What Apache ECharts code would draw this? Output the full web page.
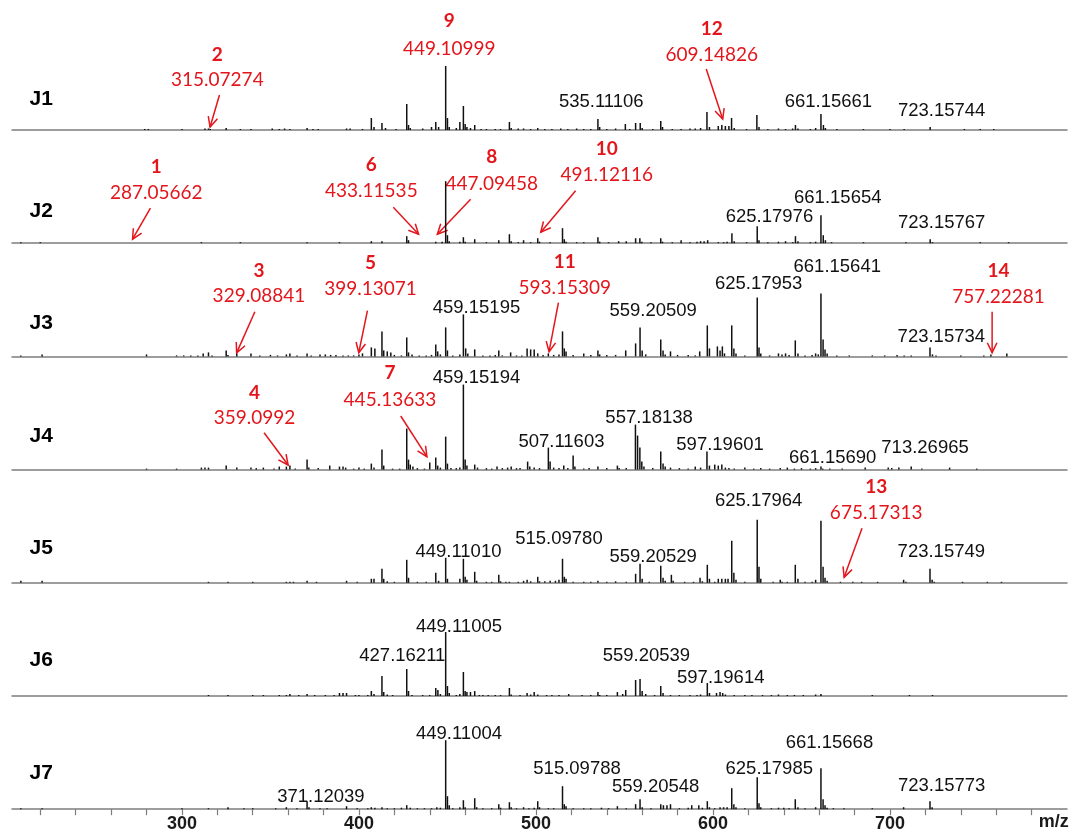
<!DOCTYPE html>
<html>
<head>
<meta charset="utf-8">
<title>J1-J7 mass spectra</title>
<script src="https://cdn.jsdelivr.net/npm/echarts@6/dist/echarts.min.js"></script>
<style>
  html, body { margin: 0; padding: 0; background: #fff; }
  #chart { width: 1069px; height: 837px; }
</style>
</head>
<body>
<div id="chart"></div>
<script>
// m/z axis
const mzMin = 204
const mzMax = 800
const tickValues = [220, 240, 260, 280, 300, 320, 340, 360, 380, 400, 420, 440, 460, 480, 500, 520, 540, 560, 580, 600, 620, 640, 660, 680, 700, 720, 740, 760, 780]
const tickLabels = [300, 400, 500, 600, 700]

const samples = ['J1', 'J2', 'J3', 'J4', 'J5', 'J6', 'J7']
const sampleLabelHeight = [31, 31.5, 33, 33.6, 34.5, 35.3, 36]

// peaks: [m/z, relative height]
const peaksJ1 = [[279, 1], [281, 1], [300, 1], [313, 1.5], [315, 1.5], [316, 1], [325, 2], [333, 1], [339, 1], [351, 1.5], [355, 1], [358, 1.5], [361, 1], [370.7, 2], [374, 1], [377, 1], [393, 1.5], [395, 1.5], [402, 1],
  [407, 12], [408.5, 3], [413, 7], [415, 2], [421, 1], [427, 26], [428, 5], [429, 2], [436, 1.5], [441, 3], [443.4, 8], [445, 3], [449, 64], [450, 12], [451, 3], [455, 2], [457, 8], [459, 24], [460, 6], [461, 3], [463, 2], [465.4, 5], [469, 1], [472, 1], [477, 1], [480, 1],
  [485, 8], [486, 2], [490, 1.5], [493, 1.5], [497, 1], [501, 2], [505, 1], [509, 1], [514, 1.5], [518, 1], [523, 1.5], [527, 1], [531, 1], [535, 11], [536, 3], [540, 1], [545, 1.5], [550.5, 6], [553, 1], [556.3, 7], [558.9, 7], [560, 2], [566, 1], [570.5, 9], [571.5, 3], [577, 1], [582, 1], [587, 1.5], [590, 1.5], [593, 2],
  [596.6, 18], [598, 3], [603, 4], [605, 5], [607, 4], [609, 4], [610.5, 12], [612, 2], [619, 1], [624.8, 15], [626, 3], [631, 1], [637, 1.5], [641, 1], [645, 1.5], [646.6, 5], [648, 1.5], [655, 1], [658, 2], [661, 16], [662.4, 5], [663.5, 2], [670, 1], [685, 1], [700, 1], [708, 1], [722.7, 3], [742, 1], [751, 1], [758.6, 1]]

const peaksJ2 = [[209, 1], [220, 1], [311, 1], [333, 1], [370.7, 1], [389, 1], [407, 2], [413, 2], [427, 7], [428, 3], [443.4, 1.5], [447, 1.5], [449, 62], [450, 8], [451, 2], [457, 1.5], [459, 6], [460, 1.5], [465.4, 4], [472, 1], [479, 3],
  [485, 9], [486, 2], [490, 1], [493, 3], [497, 1], [501, 5], [502, 1.5], [508, 1], [515, 15], [516, 4], [517, 1.5], [523, 1], [527, 1], [535, 6], [536, 1.5], [541, 1], [546.7, 2], [551, 2], [556.3, 5], [558.7, 5], [559.8, 1.5], [565, 1], [570.5, 5], [571.5, 1.5], [577, 1], [582, 3], [587, 1],
  [591, 1.5], [593, 2], [595, 2], [597, 3], [603, 1], [606, 1], [608, 1.5], [610.7, 10], [612, 2], [619, 1], [625, 17], [626, 3], [631, 1], [637, 1.5], [641, 2], [645, 1], [646.6, 7], [648, 2], [655, 1], [658, 1.5], [661, 28], [662.3, 8], [663.5, 3], [667, 1], [685, 1], [709, 1], [722.7, 4], [724, 1], [751, 1], [767, 1]]

const peaksJ3 = [[209, 1], [221, 2], [280, 2], [297, 1], [301, 1], [305, 1], [309, 1], [312, 3], [315, 4], [317, 1], [325, 6], [326, 1.5], [331, 3], [339, 3], [344, 1], [350, 1.5], [354, 1], [359, 2], [361, 3], [365, 1], [370.7, 3], [373, 1], [378, 2], [381, 2], [384, 1.5], [387, 1.5], [391, 1], [394, 1], [397, 1], [400, 2], [402, 3],
  [407, 9], [409, 8], [413, 25], [414, 6], [416, 5], [418, 4], [420, 1.5], [424, 1], [427, 19], [428, 4], [430, 2], [434, 1], [438, 1], [441, 1.5], [443.4, 12], [444.5, 5], [446, 2], [449, 29], [450, 6], [453, 1], [457, 2], [459, 42], [460.3, 8], [461.5, 3], [465.4, 7], [470, 1], [474, 1], [477, 1.5], [479, 6], [481, 1],
  [485.7, 4], [489, 1], [492, 1], [495, 8], [497, 7], [499, 7], [501, 3], [504, 1.5], [507, 3], [510, 1.5], [513, 2], [515, 25], [516, 8], [517, 5], [521, 1.5], [527, 3], [531, 1.5], [535, 6], [536, 2], [540, 1.5], [545, 1.5], [550.7, 6], [556.3, 13], [558.8, 29], [560, 6], [562, 2],
  [570.5, 17], [571.8, 6], [573, 2], [576, 5], [580, 1.5], [586, 1.5], [590, 1], [592.5, 5], [596.8, 31], [598, 8], [602.5, 10], [604, 6], [605.3, 10], [606.5, 3], [610.6, 31], [611.8, 8], [613, 3], [618, 1], [625, 59], [626, 9], [627, 3], [632, 1], [637, 3], [639, 2], [641, 3], [643, 1.5], [646.5, 16], [648, 3],
  [652, 1], [656, 1.5], [658, 3], [659.5, 2], [661, 63], [662.2, 17], [663.3, 7], [664.5, 3], [670, 1], [677, 1], [690, 1], [697, 1], [704, 1.5], [708, 1], [712, 1], [722.6, 9], [724, 2], [726, 1], [740, 1], [753, 1], [757, 2], [766, 3]]

const peaksJ4 = [[280, 1], [297, 1], [311, 2], [313, 2], [315, 2], [325, 4], [331, 2], [339, 2], [342, 1.5], [346, 2], [352, 1], [355, 3], [359, 3], [361, 4], [364, 1], [370.7, 10], [371.7, 2], [377, 1.5], [383.5, 4], [389, 3], [391, 3], [392.5, 2], [397, 1], [400, 2], [403, 1],
  [407, 6], [408.5, 2], [413, 20], [414, 4], [419, 1], [423, 1], [427, 41], [428, 10], [429, 5], [430.5, 3], [433, 1.5], [437, 1], [440, 7], [443.4, 12], [444.5, 4], [446, 2], [449, 33], [450, 6], [452, 1.5], [455, 1.5], [457, 2], [459, 85], [460, 10], [461, 4], [465.4, 5], [467, 2], [472, 1.5], [475, 1], [478, 3], [481, 1.5],
  [484, 2], [486, 3], [489, 1.5], [491, 1.5], [495.3, 8], [496.5, 3], [499, 2], [502, 1.5], [507, 22], [508, 8], [510, 2], [513, 1.5], [515.7, 4], [518, 1.5], [521, 14], [522, 3], [527, 1], [530, 1.5], [535, 3], [540, 1.5], [546, 4], [547, 1.5], [551, 1.5],
  [556.2, 45], [557.4, 34], [558.7, 22], [559.8, 8], [561, 3], [566, 1.5], [570.5, 18], [571.8, 6], [573, 3], [576, 2], [581, 1.5], [586, 1], [590, 3], [593, 2], [596.6, 18], [598, 4], [601, 5], [603, 4], [605, 5], [607, 2], [609, 1.5], [612, 1], [618, 2], [623, 1], [627, 1.5], [632, 1],
  [638, 1.5], [642, 2], [646, 1], [650, 1.5], [655, 1], [658, 1.5], [661, 3], [662, 1], [666, 1], [673, 1], [686, 2], [699, 2], [701, 1.5], [705, 2], [712, 3], [718, 1], [733.7, 2], [749, 1]]

const peaksJ5 = [[209, 2], [221, 2], [315, 1], [326, 1], [340, 1], [359, 1], [361, 1], [363, 1], [370.7, 2], [376, 1], [393, 2], [399, 1], [407, 4], [408.5, 4], [413, 14], [414, 4], [416, 1.5], [420, 1], [427, 23], [428, 5], [433, 1], [438, 1], [443.4, 10], [445, 2],
  [449, 25], [450, 4], [457, 4], [459, 24], [460, 6], [461, 3], [465.4, 11], [466.5, 2], [472, 1], [475, 1], [479, 8], [480, 1.5], [483, 1], [485, 1], [490, 1], [493, 2], [495, 3], [497, 1.5], [501, 6], [502, 1.5], [505, 1.5], [508, 2], [511, 2], [513, 3], [515, 24], [516, 6], [517, 4],
  [521, 1], [527, 1], [531, 1], [535, 2], [540, 1], [545, 1.5], [551, 1], [556.3, 9], [558.8, 19], [560, 4], [564, 1], [570.5, 17], [571.8, 5], [573, 2], [576.5, 8], [577.5, 2], [584, 1], [589, 1], [592.7, 5], [594, 1.5], [596.8, 18], [598, 4], [601, 1], [603, 4], [605, 4], [607, 4], [608.5, 4],
  [610.6, 42], [611.8, 10], [613, 3], [618, 1], [625, 63], [626, 16], [627, 4], [634, 1], [638, 3], [639, 1], [642, 1], [646.5, 18], [648, 4], [652, 1], [656, 1], [658, 3], [661, 62], [662.2, 16], [663.3, 5], [664.5, 2], [672, 1], [679, 1], [684, 1], [693, 1], [707.7, 3], [709, 1], [722.6, 14], [723.8, 3], [725, 1], [741, 1], [755, 1], [763, 1]]

const peaksJ6 = [[315, 1], [326, 1], [340, 1], [346, 1], [355, 1], [359, 1], [361, 2], [366, 1], [370.7, 2], [375, 1], [381, 1], [386, 1], [389, 3], [391, 3], [393, 3], [398, 1], [400, 1], [405, 1], [407, 5], [408.5, 2], [413, 20], [414, 4], [416, 1.5], [419, 1], [427, 27], [428, 5], [430, 1], [436, 1], [440, 1],
  [443.4, 8], [444.6, 6], [446, 2], [449, 64], [450, 10], [451, 3], [455, 1], [457, 2], [459, 24], [460, 5], [461, 4], [463, 4], [465.4, 5], [468, 1], [470, 1], [473, 1], [477, 1], [480, 1], [485, 8], [486, 1.5], [491, 1], [495, 3], [497, 1.5], [499, 4], [501, 1.5], [506, 1], [509, 1], [513, 1], [518.5, 2],
  [526, 1], [531, 1], [535, 4], [536, 1], [540, 1], [546, 4], [549, 2], [550.7, 6], [556.3, 16], [558.8, 17], [560, 5], [562, 2], [567, 1], [570.5, 10], [571.8, 3], [576, 1], [581, 1], [587, 1], [591, 1], [593, 1.5], [596.8, 13], [598, 3], [602, 3], [604, 4], [605.5, 3], [607, 1.5],
  [612, 1], [618, 1], [622, 1], [628, 1], [633, 1], [637, 1.5], [642, 1], [646, 1], [651, 1], [658, 1.5], [661, 2], [690, 1], [711, 1], [724, 1]]

const peaksJ7 = [[209, 1], [221, 1], [300, 1], [315, 1], [326, 2], [335, 1], [340, 1], [353, 1], [359, 2], [365, 1], [370.7, 8], [371.8, 2], [378, 1], [382, 1], [393, 3], [399, 1], [405, 1], [407, 2], [409, 1.5], [413, 2], [416, 1], [420, 1], [424, 1.5], [427, 4], [429, 1.5], [433, 1], [437, 1], [441, 1], [444, 2], [446, 1.5],
  [449, 69], [450, 13], [451, 4], [453, 1], [457, 2], [459, 9], [460, 2], [465.4, 11], [466.5, 2], [470, 1], [475, 1], [479, 5], [480, 1.5], [485, 7], [486, 2], [489, 1], [493, 2], [496, 1], [499, 1.5], [501, 8], [502, 2], [507, 1], [510, 1], [515, 23], [516, 5], [517, 3],
  [521, 1], [527, 1], [531, 1], [537, 1.5], [541, 1], [546, 3], [551, 1], [556.3, 5], [558.8, 10], [560, 2], [565, 1], [570.5, 5], [572, 4], [574, 4], [576, 5], [581, 1], [586, 1.5], [588, 4], [592, 4], [594, 1.5], [596.8, 8], [598, 2], [601, 1], [604, 2], [606, 2], [608, 2],
  [610.6, 21], [611.8, 5], [613, 2], [618, 1], [625, 32], [626, 6], [627, 2], [633, 1], [637, 1.5], [640, 1.5], [643, 1], [646.5, 10], [648, 2], [652, 1], [658, 2], [661, 41], [662.2, 10], [663.3, 4], [664.5, 1.5], [668, 1], [674, 1], [690, 1], [707.7, 2], [722.6, 8], [723.8, 2]]

// black peak labels: [text, m/z centre, height above baseline]
const labelsJ1 = [['535.11106', 536.9, 28], ['661.15661', 665.2, 28], ['723.15744', 729.2, 19]]
const labelsJ2 = [['625.17976', 631.9, 26], ['661.15654', 670.5, 45], ['723.15767', 729.2, 20.5]]
const labelsJ3 = [['459.15195', 466.4, 48], ['559.20509', 566.2, 45.7], ['625.17953', 625.8, 72.4], ['661.15641', 670.2, 89.7], ['723.15734', 729, 19.7]]
const labelsJ4 = [['459.15194', 466.4, 91.3], ['507.11603', 514.4, 27.3], ['557.18138', 563.9, 51.3], ['597.19601', 604, 24.6], ['661.15690', 667.6, 11.3], ['713.26965', 719.8, 21.3]]
const labelsJ5 = [['449.11010', 456.2, 31.1], ['515.09780', 513, 43.5], ['559.20529', 566.2, 25.5], ['625.17964', 625.8, 81.8], ['723.15749', 729, 31.1]]
const labelsJ6 = [['449.11005', 456.5, 69.3], ['427.16211', 424.5, 40], ['559.20539', 562.4, 40], ['597.19614', 604.4, 17.7]]
const labelsJ7 = [['371.12039', 378.5, 12.5], ['449.11004', 456.5, 75.2], ['515.09788', 523.2, 40], ['559.20548', 567.6, 22.5], ['625.17985', 631.8, 40], ['661.15668', 665.8, 66.5], ['723.15773', 729.2, 23.2]]

// red marked compounds: [number, m/z text, m/z centre, number height, text height]
const markedJ1 = [['2', '315.07274', 320, 75, 50], ['9', '449.10999', 451, 109, 81], ['12', '609.14826', 599.3, 100.7, 75]]
const markedJ2 = [['1', '287.05662', 285.5, 76.5, 50], ['6', '433.11535', 407, 78, 52], ['8', '447.09458', 475, 86.5, 59], ['10', '491.12116', 540, 94, 68]]
const markedJ3 = [['3', '329.08841', 343.5, 85.7, 60.4], ['5', '399.13071', 406.5, 93.7, 68], ['11', '593.15309', 516.3, 94.7, 69], ['14', '757.22281', 761.3, 85.7, 59.7]]
const markedJ4 = [['4', '359.0992', 341, 76.9, 51.3], ['7', '445.13633', 417.5, 96.9, 69.6]]
const markedJ5 = [['13', '675.17313', 692.2, 96, 70]]
const markedJ6 = []
const markedJ7 = []

// red arrows: [m/z start, height start, m/z tip, height tip]
const arrowsJ1 = [[321.2, 35, 315.9, 3], [596.2, 61, 605.5, 11]]
const arrowsJ2 = [[282.2, 35, 272.1, 4], [419.4, 36, 433.7, 9], [463.1, 44, 444.3, 9], [522.4, 52.5, 502.7, 11]]
const arrowsJ3 = [[341.2, 44.7, 330.9, 3.5], [404.8, 45.7, 399.9, 3.7], [512.7, 53.7, 507.4, 4.7], [757.7, 44.7, 757.7, 3.7]]
const arrowsJ4 = [[346.4, 36.9, 360, 4.6], [423.6, 53.6, 438.4, 12.9]]
const arrowsJ5 = [[684.2, 54.5, 674.1, 5.5]]
const arrowsJ6 = []
const arrowsJ7 = []

const peaks = [peaksJ1, peaksJ2, peaksJ3, peaksJ4, peaksJ5, peaksJ6, peaksJ7]
const labels = [labelsJ1, labelsJ2, labelsJ3, labelsJ4, labelsJ5, labelsJ6, labelsJ7]
const marked = [markedJ1, markedJ2, markedJ3, markedJ4, markedJ5, markedJ6, markedJ7]
const arrows = [arrowsJ1, arrowsJ2, arrowsJ3, arrowsJ4, arrowsJ5, arrowsJ6, arrowsJ7]

const RED = '#e3161c'
const BLACK_FONT = '18.5px "Liberation Sans", Arial, sans-serif'
const RED_FONT = '19px Lato, "Open Sans", sans-serif'
const RED_BOLD_FONT = 'bold 19px Lato, "Open Sans", sans-serif'
const PANEL_FONT = 'bold 21px "Liberation Sans", Arial, sans-serif'
const AXIS_FONT = 'bold 18px "Liberation Sans", Arial, sans-serif'

const firstBaseline = 130
const panelStep = 113.2
const panelHeight = 113

const chart = echarts.init(document.getElementById('chart'), null, { renderer: 'canvas' })

const grids = []
const xAxes = []
const yAxes = []
const series = []

samples.forEach((name, i) => {
  const last = i === samples.length - 1
  grids.push({
    left: 12,
    right: 2,
    top: firstBaseline + panelStep * i - panelHeight,
    height: panelHeight
  })
  xAxes.push({
    type: 'value',
    gridIndex: i,
    min: mzMin,
    max: mzMax,
    axisLine: { show: true, onZero: false, lineStyle: { color: '#7d7d7d', width: 1.5 } },
    axisTick: last
      ? { show: true, customValues: tickValues, length: 6, lineStyle: { color: '#7d7d7d', width: 1.2 } }
      : { show: false },
    axisLabel: last
      ? { show: true, customValues: tickLabels, color: '#1a1a1a', fontSize: 18, fontWeight: 'bold', fontFamily: '"Liberation Sans", Arial, sans-serif', margin: 6 }
      : { show: false },
    splitLine: { show: false }
  })
  yAxes.push({ type: 'value', gridIndex: i, min: 0, max: panelHeight, show: false })

  series.push({
    type: 'bar',
    name: name,
    xAxisIndex: i,
    yAxisIndex: i,
    data: peaks[i],
    barWidth: 1.5,
    itemStyle: { color: '#111' },
    silent: true,
    animation: false
  })

  // text annotations for this panel
  const texts = [{ text: name, mz: 220.5, h: sampleLabelHeight[i], font: PANEL_FONT, color: '#000' }]
  labels[i].forEach(([t, mz, h]) => texts.push({ text: t, mz, h, font: BLACK_FONT, color: '#111' }))
  marked[i].forEach(([num, t, mz, hNum, hText]) => {
    texts.push({ text: num, mz, h: hNum, font: RED_BOLD_FONT, color: RED })
    texts.push({ text: t, mz, h: hText, font: RED_FONT, color: RED })
  })
  if (last) texts.push({ text: 'm/z', mz: 792.5, h: -13, font: AXIS_FONT, color: '#1a1a1a' })

  series.push({
    type: 'custom',
    xAxisIndex: i,
    yAxisIndex: i,
    silent: true,
    animation: false,
    clip: false,
    data: texts.map((d) => [d.mz, d.h]),
    renderItem: (params, api) => {
      const d = texts[params.dataIndex]
      const p = api.coord([d.mz, d.h])
      return {
        type: 'text',
        x: p[0],
        y: p[1],
        style: { text: d.text, font: d.font, fill: d.color, align: 'center', verticalAlign: 'middle' }
      }
    }
  })

  if (arrows[i].length) {
    series.push({
      type: 'custom',
      xAxisIndex: i,
      yAxisIndex: i,
      silent: true,
      animation: false,
      clip: false,
      data: arrows[i],
      encode: { x: [0, 2], y: [1, 3] },
      renderItem: (params, api) => {
        const a = api.coord([api.value(0), api.value(1)])
        const b = api.coord([api.value(2), api.value(3)])
        const ang = Math.atan2(b[1] - a[1], b[0] - a[0])
        const len = 11
        const spread = 0.45
        const h1 = [b[0] - len * Math.cos(ang - spread), b[1] - len * Math.sin(ang - spread)]
        const h2 = [b[0] - len * Math.cos(ang + spread), b[1] - len * Math.sin(ang + spread)]
        const style = { stroke: RED, lineWidth: 1.5, fill: null }
        return {
          type: 'group',
          children: [
            { type: 'line', shape: { x1: a[0], y1: a[1], x2: b[0], y2: b[1] }, style },
            { type: 'polyline', shape: { points: [h1, b, h2] }, style }
          ]
        }
      }
    })
  }
})

chart.setOption({
  animation: false,
  backgroundColor: '#fff',
  grid: grids,
  xAxis: xAxes,
  yAxis: yAxes,
  series: series
})
</script>
</body>
</html>
